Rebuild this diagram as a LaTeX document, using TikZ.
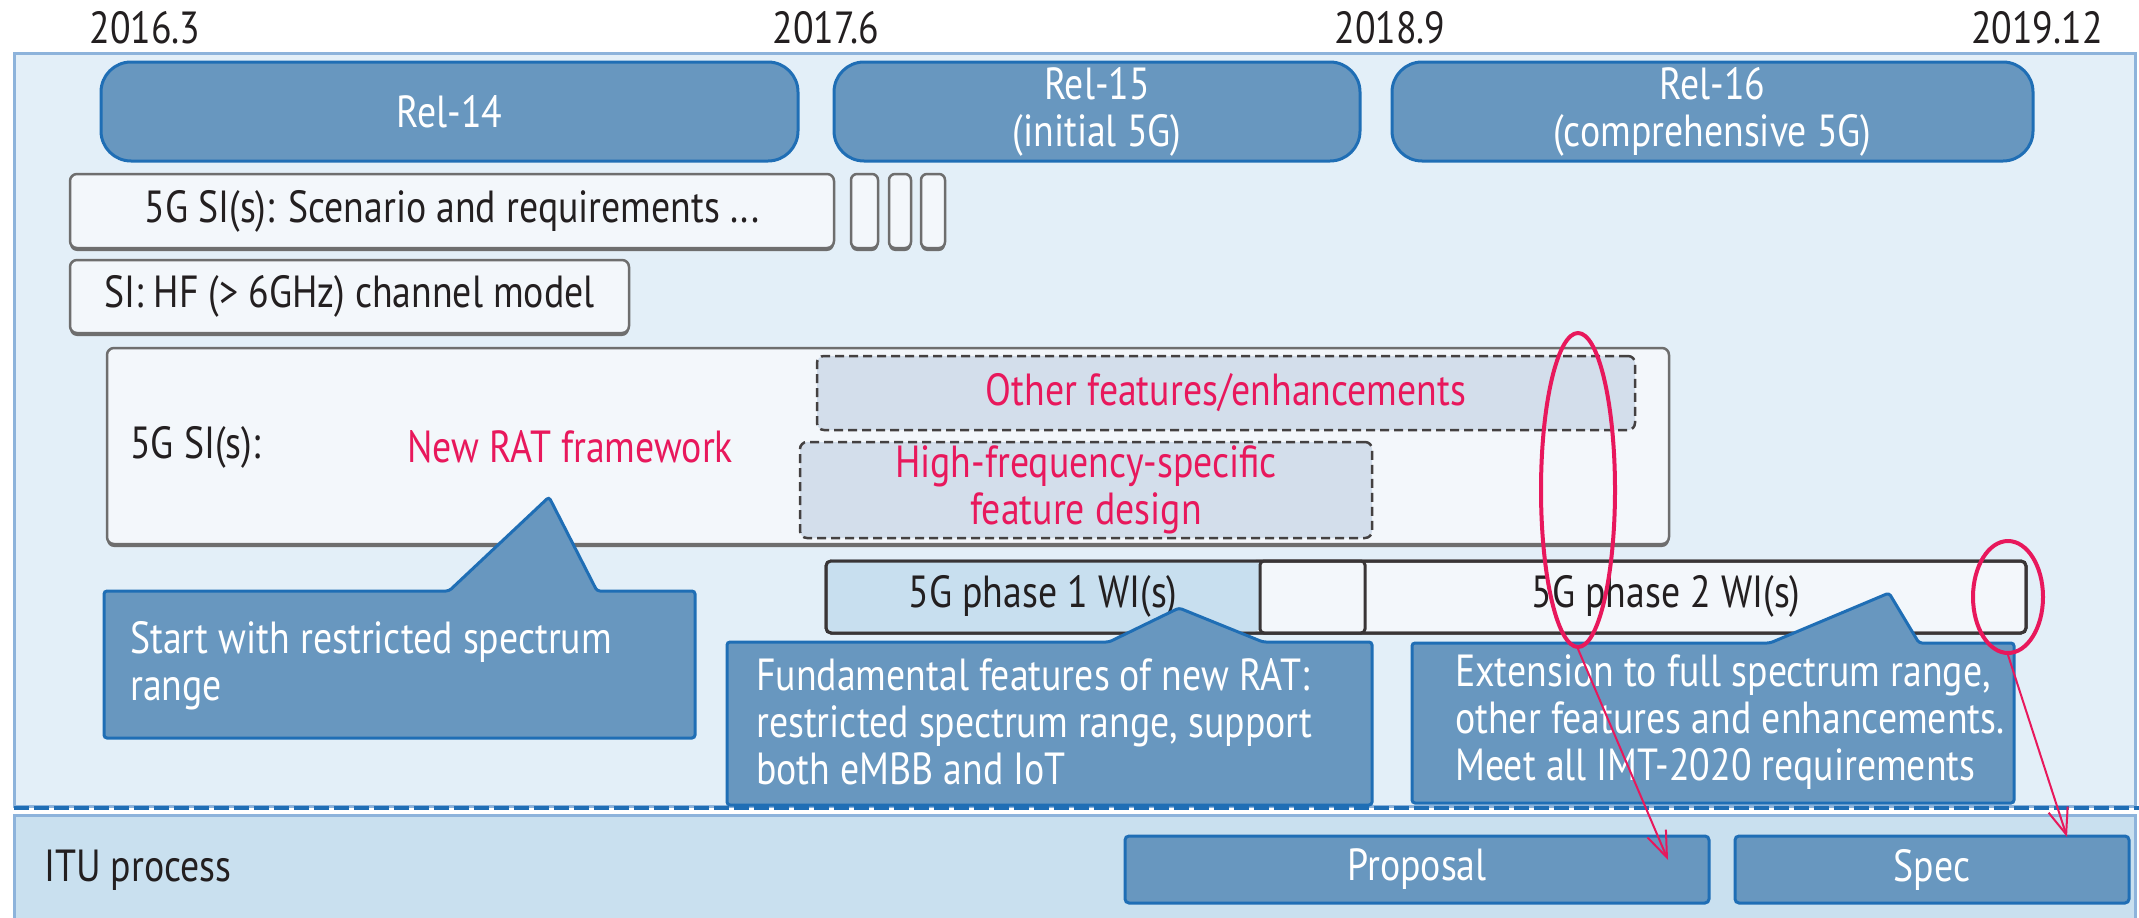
\documentclass[tikz,border=0pt]{standalone}
\usepackage{fontspec}
\setmainfont{PT Sans}[FakeStretch=0.84]
\usetikzlibrary{arrows.meta,shapes.geometric,shadows}

\definecolor{panelfill}{HTML}{E3EFF8}
\definecolor{panelline}{HTML}{8DB3DB}
\definecolor{relfill}{HTML}{6897BF}
\definecolor{relline}{HTML}{1F6EB5}
\definecolor{boxfill}{HTML}{F3F7FB}
\definecolor{boxline}{HTML}{6E6E6E}
\definecolor{dashfill}{HTML}{D3DEEB}
\definecolor{hilite}{HTML}{E8185C}
\definecolor{phasefill}{HTML}{C8DFEF}
\definecolor{itufill}{HTML}{C9E0EF}
\definecolor{ink}{HTML}{231F20}

\tikzset{
  x=1pt, y=-1pt,
  txt/.style={font=\fontsize{45}{47}\selectfont, inner sep=0pt, text=ink},
  sized/.style 2 args={minimum width=#1, minimum height=#2, anchor=north west, inner sep=0pt, outer sep=0pt},
  panel/.style={fill=panelfill, draw=panelline, line width=3},
  itupanel/.style={fill=itufill, draw=panelline, line width=3},
  release/.style={fill=relfill, draw=relline, line width=3, rounded corners=30,
    txt, text=white, align=center},
  bluebox/.style={fill=relfill, draw=relline, line width=3, rounded corners=4,
    txt, text=white, align=center},
  callout/.style={fill=relfill, draw=relline, line width=3, rounded corners=3},
  whitebox/.style={fill=boxfill, draw=boxline, line width=2.5, rounded corners=7,
    drop shadow={shadow xshift=0pt, shadow yshift=-3pt, fill=boxline, opacity=1},
    txt, align=center},
  dashbox/.style={fill=dashfill, draw=ink!85, line width=2.5, dash pattern=on 9pt off 5pt,
    rounded corners=7, txt, text=hilite, align=center},
  phasebox/.style={draw=ink!90, line width=3, rounded corners=5, txt, align=center},
  ring/.style={ellipse, draw=hilite, line width=4, inner sep=0pt},
  hiarrow/.style={draw=hilite, line width=2, -{Straight Barb[length=26pt,width=20pt,line width=2pt]}},
}

\begin{document}
\begin{tikzpicture}
\useasboundingbox (0,0) rectangle (2139,918);

% timeline dates
\node[txt] (d1) at (145,28) {2016.3};
\node[txt] (d2) at (826,28) {2017.6};
\node[txt] (d3) at (1390,28) {2018.9};
\node[txt] (d4) at (2037,28) {2019.12};

% 3GPP panel and ITU panel
\node[panel, sized={2121}{753}] (gpp) at (14,53) {};
\node[itupanel, sized={2121}{120}] (itu) at (14,815) {};
\coordinate (sepL) at (14,808);
\coordinate (sepR) at (2139,808);
\draw[draw=relline, line width=4, dash pattern=on 15pt off 5pt] (sepL) -- (sepR);

% releases
\node[release, sized={697}{99}] (rel14) at (101,62) {Rel-14};
\node[release, sized={526}{99}] (rel15) at (834,62) {Rel-15\\(initial 5G)};
\node[release, sized={641}{99}] (rel16) at (1392,62) {Rel-16\\(comprehensive 5G)};

% study items
\node[whitebox, sized={764}{74}] (scen) at (70,174) {5G SI(s): Scenario and requirements ...};
\node[whitebox, rounded corners=6, sized={27}{74}] (s1) at (851,174) {};
\node[whitebox, rounded corners=6, sized={22}{74}] (s2) at (889,174) {};
\node[whitebox, rounded corners=6, sized={24}{74}] (s3) at (921,174) {};
\node[whitebox, sized={559}{73}] (hf) at (70,260) {SI: HF (> 6GHz) channel model};

% new RAT study
\node[whitebox, sized={1562}{196}] (nrsi) at (107,348) {};
\node[txt, anchor=west] (nrlabel) at (130,447) {5G SI(s):};
\node[txt, text=hilite] (nrframe) at (570,447) {New RAT framework};
\node[dashbox, sized={818}{74}] (other) at (817,356) {Other features/enhancements};
\node[dashbox, sized={572}{96}] (hfspec) at (800,442) {High-frequency-specific\\feature design};

% work items
\node[phasebox, sized={1200}{72}, fill=boxfill] (phaserow) at (826,561) {};
\fill[phasefill, rounded corners=5] (phaserow.north west) ++(1.5,-1.5) rectangle (1260,633-1.5);
\node[phasebox, sized={105}{72}, fill=boxfill, rounded corners=4] (gap) at (1260,561) {};
\draw[ink!90, line width=3, rounded corners=5] (phaserow.north west) rectangle (phaserow.south east);
\node[txt] (ph1) at (1043,596) {5G phase 1 WI(s)};
\node[txt] (ph2) at (1666,596) {5G phase 2 WI(s)};

% callouts
\coordinate (c1a) at (549,497);
\draw[callout] (104,591) -- (449,591) -- (c1a) -- (597,591) -- (695,591)
  -- (695,738) -- (104,738) -- cycle;
\node[txt, text=white, anchor=west, align=left] (c1) at (130,666)
  {Start with restricted spectrum\\range};

\coordinate (c2a) at (1179,608);
\draw[callout] (727,642) -- (1109,642) -- (c2a) -- (1263,642) -- (1372,642)
  -- (1372,805) -- (727,805) -- cycle;
\node[txt, text=white, anchor=west, align=left] (c2) at (756,722)
  {Fundamental features of new RAT:\\restricted spectrum range, support\\both eMBB and IoT};

\coordinate (c3a) at (1889,593);
\draw[callout] (1412,643) -- (1770,643) -- (c3a) -- (1919,643) -- (2014,643)
  -- (2014,803) -- (1412,803) -- cycle;
\node[txt, text=white, anchor=west, align=left] (c3) at (1455,722)
  {Extension to full spectrum range,\\other features and enhancements.\\Meet all IMT-2020 requirements};

% ITU process
\node[txt, anchor=west] (itulabel) at (44,870) {ITU process};
\node[bluebox, sized={584}{67}] (prop) at (1125,836) {Proposal};
\node[bluebox, sized={394}{67}] (spec) at (1735,836) {Spec};

% highlight rings and links to the ITU steps
\node[ring, minimum width=74, minimum height=314] (ring1) at (1578,490) {};
\node[ring, minimum width=70, minimum height=112] (ring2) at (2008,597) {};
\coordinate (t1) at (1668,860);
\coordinate (t2) at (2067,837);
\draw[hiarrow] (ring1.south) -- (t1);
\draw[hiarrow] (ring2.south) -- (t2);
\end{tikzpicture}
\end{document}
